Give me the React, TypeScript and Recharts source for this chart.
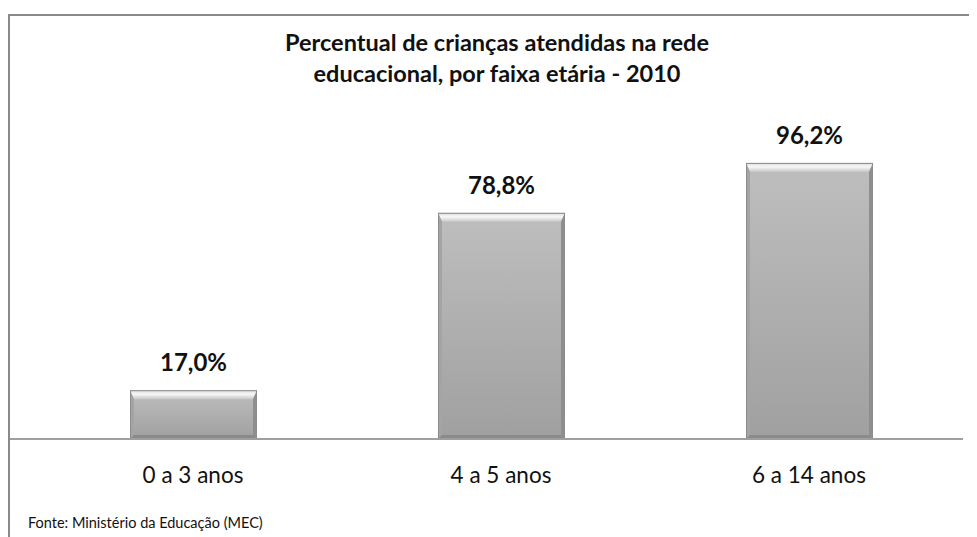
import { BarChart, Bar, XAxis, YAxis, LabelList } from 'recharts';

const categories = ['0 a 3 anos', '4 a 5 anos', '6 a 14 anos'];
const percentages = [17.0, 78.8, 96.2];

const data = categories.map((faixa, i) => ({ faixa, valor: percentages[i] }));

const fmtPct = (v: number) => `${v.toFixed(1).replace('.', ',')}%`;
const FONT = 'Lato, "Open Sans", sans-serif';

const BevelBar = (props: any) => {
  const { x, y, width: w, height: h } = props;
  if (!h || h <= 0) return null;
  const bt = Math.min(9, h / 3);
  const bs = 4;
  const bb = Math.min(4, h / 4);
  return (
    <g>
      <rect x={x} y={y} width={w} height={h} fill="url(#barFace)" />
      <polygon
        points={`${x},${y} ${x + w},${y} ${x + w - bs},${y + bt} ${x + bs},${y + bt}`}
        fill="url(#barTop)"
      />
      <polygon
        points={`${x},${y} ${x + bs},${y + bt} ${x + bs},${y + h - bb} ${x},${y + h}`}
        fill="#a4a4a4"
      />
      <polygon
        points={`${x + w},${y} ${x + w - bs},${y + bt} ${x + w - bs},${y + h - bb} ${x + w},${y + h}`}
        fill="#8e8e8e"
      />
      <polygon
        points={`${x},${y + h} ${x + bs},${y + h - bb} ${x + w - bs},${y + h - bb} ${x + w},${y + h}`}
        fill="#8a8a8a"
      />
      <rect x={x + 0.5} y={y + 0.5} width={w - 1} height={h - 1} fill="none" stroke="#8c8c8c" strokeWidth={1} />
    </g>
  );
};

const ValueLabel = (props: any) => {
  const { x, y, width, value } = props;
  return (
    <text
      x={x + width / 2}
      y={y - 19}
      textAnchor="middle"
      fontFamily={FONT}
      fontWeight={700}
      fontSize={24}
      fill="#111"
    >
      {fmtPct(value)}
    </text>
  );
};

const CategoryTick = (props: any) => {
  const { x, y, payload } = props;
  return (
    <text x={x} y={y + 42} textAnchor="middle" fontFamily={FONT} fontSize={22.5} fill="#111">
      {payload.value}
    </text>
  );
};

export default function App() {
  return (
    <div style={{ position: 'relative', width: 969, height: 529, background: '#fff' }}>
      <div
        style={{
          position: 'absolute',
          left: 0,
          top: 6,
          width: 969,
          height: 523,
          borderTop: '2px solid #8a8a8a',
          borderLeft: '2px solid #8a8a8a',
          boxSizing: 'border-box',
        }}
      />
      <div
        style={{
          position: 'absolute',
          left: 0,
          top: 19,
          width: 978,
          textAlign: 'center',
          fontFamily: FONT,
          fontWeight: 700,
          fontSize: 23.5,
          lineHeight: '31px',
          color: '#111',
        }}
      >
        Percentual de crianças atendidas na rede
        <br />
        educacional, por faixa etária - 2010
      </div>
      <div style={{ position: 'absolute', left: 0, top: 0 }}>
        <BarChart
          width={969}
          height={529}
          data={data}
          margin={{ top: 144, right: 14, bottom: 58, left: 2 }}
        >
          <defs>
            <linearGradient id="barFace" x1="0" y1="0" x2="0" y2="1">
              <stop offset="0%" stopColor="#bebebe" />
              <stop offset="100%" stopColor="#a0a0a0" />
            </linearGradient>
            <linearGradient id="barTop" x1="0" y1="0" x2="0" y2="1">
              <stop offset="0%" stopColor="#dcdcdc" />
              <stop offset="45%" stopColor="#f7f7f7" />
              <stop offset="100%" stopColor="#c6c6c6" />
            </linearGradient>
          </defs>
          <XAxis
            dataKey="faixa"
            height={40}
            padding={{ left: 29, right: 0 }}
            axisLine={{ stroke: '#9f9f9f', strokeWidth: 2 }}
            tickLine={false}
            tickSize={0}
            tick={<CategoryTick />}
            interval={0}
          />
          <YAxis hide domain={[0, 100]} />
          <Bar dataKey="valor" barSize={127} shape={<BevelBar />} isAnimationActive={false}>
            <LabelList dataKey="valor" content={<ValueLabel />} />
          </Bar>
        </BarChart>
      </div>
      <div
        style={{
          position: 'absolute',
          left: 20,
          top: 507,
          fontFamily: FONT,
          fontSize: 14.5,
          lineHeight: '16px',
          color: '#111',
          whiteSpace: 'nowrap',
        }}
      >
        Fonte: Ministério da Educação (MEC)
      </div>
    </div>
  );
}
